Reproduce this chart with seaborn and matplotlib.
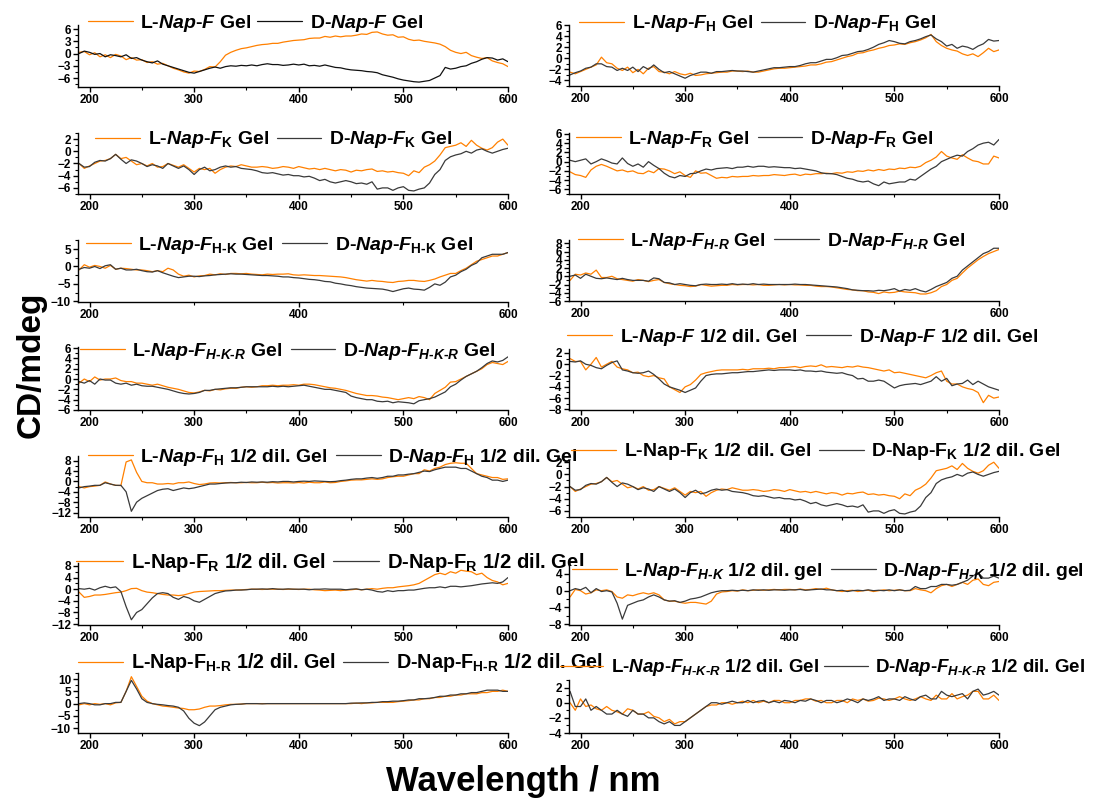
import matplotlib
matplotlib.use("Agg")
import matplotlib.pyplot as plt
from matplotlib.ticker import MultipleLocator, AutoMinorLocator, FixedLocator
import pandas as pd
import seaborn as sns

# ---------------- data (CD in mdeg) ----------------
wavelength = list(range(190, 601, 5))

F_L = [0.3, 0.5, -0.3, 0.2, -0.8, -0.3, -1.0, -0.2, -0.6, -1.5,
       -1.0, -1.6, -1.5, -2.2, -2.0, -2.6, -2.4, -3.0, -3.6, -4.0,
       -4.5, -4.8, -4.3, -4.4, -3.9, -3.2, -3.3, -2.0, -0.4, 0.3,
       0.8, 1.2, 1.4, 1.7, 2.0, 2.2, 2.3, 2.5, 2.5, 2.8,
       3.0, 3.2, 3.3, 3.4, 3.7, 3.8, 3.8, 4.2, 4.0, 4.3,
       4.1, 4.3, 4.3, 4.5, 4.8, 4.7, 5.2, 5.3, 4.8, 4.5,
       4.6, 4.0, 4.1, 3.5, 3.2, 3.3, 3.0, 2.8, 2.6, 2.3,
       1.7, 0.8, 0.3, 0.0, 0.3, -0.5, -0.9, -1.2, -1.0, -1.8,
       -2.2, -2.5, -3.2]
F_D = [0.0, 0.6, 0.3, -0.2, 0.0, -0.8, -0.3, -0.5, -0.8, -0.3,
       -1.2, -1.0, -1.6, -2.0, -2.3, -1.8, -2.6, -3.0, -3.4, -3.8,
       -4.2, -4.6, -4.8, -4.4, -4.0, -3.6, -3.3, -3.6, -3.2, -3.0,
       -3.1, -2.9, -3.0, -2.8, -3.0, -2.7, -2.5, -2.7, -2.7, -2.9,
       -2.8, -2.6, -2.8, -2.6, -3.0, -2.9, -3.1, -2.8, -3.1, -3.4,
       -3.5, -3.8, -4.0, -4.1, -4.2, -4.4, -4.5, -4.7, -5.2, -5.5,
       -5.8, -6.2, -6.5, -6.7, -6.9, -7.0, -6.8, -6.6, -6.0, -5.4,
       -3.4, -3.8, -3.6, -3.2, -3.0, -2.4, -2.0, -1.4, -1.0, -1.1,
       -1.6, -1.3, -2.0]

FH_L = [-2.5, -2.8, -2.4, -2.0, -1.6, -1.2, 0.2, -0.8, -1.0, -1.8,
        -2.2, -1.6, -2.6, -2.0, -2.8, -1.8, -1.5, -2.4, -2.5, -2.8,
        -2.4, -2.8, -3.0, -2.7, -3.1, -3.0, -2.8, -2.7, -2.6, -2.5,
        -2.5, -2.3, -2.3, -2.4, -2.3, -2.5, -2.5, -2.3, -2.1, -1.9,
        -1.8, -1.8, -1.7, -1.6, -1.5, -1.4, -1.2, -1.2, -1.0, -0.7,
        -0.6, -0.3, 0.0, 0.3, 0.5, 0.9, 1.0, 1.3, 1.5, 1.8,
        2.0, 2.3, 2.4, 2.6, 2.5, 2.8, 3.0, 3.3, 3.7, 4.3,
        3.0, 2.3, 1.8, 1.5, 1.3, 0.8, 0.5, 0.8, 0.3, 1.0,
        1.8, 1.2, 1.5]
FH_D = [-3.0, -2.6, -2.3, -1.8, -1.6, -1.0, -1.0, -1.5, -1.6, -2.2,
        -1.8, -2.2, -1.6, -2.4, -1.5, -2.0, -1.2, -2.0, -2.6, -2.4,
        -2.8, -3.2, -3.6, -3.1, -2.8, -2.5, -2.5, -2.7, -2.4, -2.4,
        -2.3, -2.2, -2.3, -2.3, -2.4, -2.5, -2.3, -2.1, -1.9, -1.7,
        -1.7, -1.6, -1.5, -1.5, -1.3, -1.0, -0.8, -0.8, -0.5, -0.2,
        -0.2, 0.1, 0.5, 0.6, 0.9, 1.2, 1.3, 1.6, 2.0, 2.5,
        2.8, 3.2, 3.0, 2.7, 2.6, 3.0, 3.2, 3.5, 3.9, 4.2,
        3.5, 3.0, 2.2, 2.5, 1.8, 2.2, 2.0, 1.6, 2.2, 2.6,
        3.4, 3.1, 3.2]

FK_L = [-2.0, -2.8, -2.4, -2.0, -1.6, -1.5, -1.2, -0.5, -1.2, -1.0,
        -1.6, -2.2, -2.0, -2.4, -2.0, -2.6, -2.5, -2.0, -2.3, -2.6,
        -2.2, -2.8, -3.4, -2.8, -3.0, -2.8, -3.6, -3.0, -2.6, -2.4,
        -2.5, -2.2, -2.4, -2.6, -2.6, -2.5, -2.6, -2.8, -2.7, -2.5,
        -2.6, -2.8, -2.5, -2.7, -2.9, -2.8, -3.0, -2.8, -3.0, -3.2,
        -3.0, -3.1, -3.4, -3.1, -3.2, -3.0, -2.9, -3.3, -3.2, -3.4,
        -3.3, -3.5, -3.6, -4.0, -3.2, -3.5, -2.6, -2.2, -1.6, -0.6,
        0.6, 0.8, 1.0, 1.4, 0.8, 1.8, 1.0, 0.5, 0.2, 0.6,
        1.5, 2.0, 1.0]
FK_D = [-2.0, -2.6, -2.5, -1.8, -1.5, -1.6, -1.2, -0.5, -1.3, -2.0,
        -1.4, -1.6, -2.0, -2.5, -2.2, -2.4, -2.8, -2.0, -2.4, -2.8,
        -2.4, -3.0, -3.8, -3.0, -2.6, -3.2, -3.0, -2.6, -2.4, -2.6,
        -2.5, -2.8, -2.9, -3.0, -3.2, -3.5, -3.6, -3.5, -3.7, -3.9,
        -3.8, -4.0, -4.0, -4.2, -4.1, -4.4, -4.8, -4.6, -5.0, -5.2,
        -5.0, -4.8, -5.0, -5.3, -5.2, -5.4, -5.0, -6.2, -6.0, -6.0,
        -6.4, -6.0, -5.8, -6.4, -6.5, -6.2, -6.0, -5.2, -3.8, -3.0,
        -1.5, -0.9, -0.6, -0.4, 0.0, -0.3, 0.2, 0.4, 0.0, -0.3,
        0.0, 0.3, 0.5]

FR_L = [-2.2, -2.8, -3.0, -3.4, -1.8, -1.0, -0.6, -1.0, -1.5, -2.0,
        -1.8, -2.2, -2.0, -2.5, -2.6, -2.0, -2.4, -1.5, -1.6, -2.0,
        -2.6, -2.2, -3.0, -3.4, -2.0, -2.5, -2.4, -3.0, -3.6, -3.4,
        -3.5, -3.2, -3.3, -3.2, -3.2, -3.0, -3.1, -3.0, -3.0, -2.8,
        -2.9, -3.0, -2.8, -2.7, -3.0, -2.7, -2.8, -2.6, -2.6, -2.5,
        -2.6, -2.4, -2.5, -2.2, -2.3, -2.0, -2.1, -1.8, -2.0, -1.7,
        -1.9, -1.6, -1.7, -1.4, -1.5, -1.2, -1.3, -1.0, -0.2, 0.3,
        1.0, 2.2, 1.2, 0.8, 0.5, 1.5, 0.8, 0.2, 0.0, -0.5,
        -0.5, 1.2, 0.8]
FR_D = [0.3, 0.0, 0.3, 0.6, -0.5, 0.0, 0.6, 0.2, -0.3, -0.5,
        0.8, -0.4, -1.0, -0.5, -1.2, 0.0, -0.8, -1.5, -2.5, -3.2,
        -3.5, -3.0, -3.2, -2.6, -2.5, -2.0, -1.6, -1.8, -1.5, -1.4,
        -1.3, -1.5, -1.2, -1.2, -1.0, -1.2, -1.0, -1.0, -1.2, -1.1,
        -1.2, -1.3, -1.3, -1.5, -1.4, -1.6, -1.8, -2.0, -2.4, -2.6,
        -2.6, -2.8, -3.2, -3.6, -3.8, -4.2, -4.4, -4.2, -4.8, -5.2,
        -4.4, -4.8, -4.6, -4.4, -4.4, -3.8, -4.0, -3.2, -2.4, -1.6,
        -1.0, 0.0, 0.5, 1.0, 1.4, 1.2, 2.2, 2.8, 3.6, 4.0,
        4.2, 3.6, 4.8]

FHK_L = [-1.0, 0.5, -0.2, 0.3, 0.0, -0.5, 0.3, -0.8, -0.5, -0.6,
         -0.8, -1.0, -1.0, -1.2, -1.5, -1.2, -1.5, -0.5, -1.0, -2.2,
         -2.8, -2.5, -3.0, -2.7, -2.6, -2.2, -2.4, -2.1, -2.3, -2.0,
         -2.0, -2.1, -2.0, -2.2, -2.3, -2.4, -2.2, -2.3, -2.2, -2.2,
         -2.1, -2.4, -2.5, -2.4, -2.5, -2.6, -2.6, -2.7, -2.8, -2.9,
         -3.0, -3.2, -3.5, -3.8, -4.0, -4.2, -4.0, -4.2, -4.3, -4.5,
         -4.6, -4.3, -4.2, -4.0, -4.0, -4.2, -4.3, -4.0, -3.6, -3.0,
         -2.5, -2.0, -2.0, -1.2, -0.5, 0.5, 1.5, 2.0, 2.5, 3.0,
         3.0, 3.5, 4.0]
FHK_D = [-0.8, -0.3, -0.5, 0.0, -0.6, 0.2, 0.5, -0.8, -0.5, -1.0,
         -1.0, -0.8, -1.2, -1.5, -1.6, -1.2, -1.8, -2.3, -2.8, -3.2,
         -3.0, -2.8, -2.8, -2.9, -2.7, -2.6, -2.4, -2.3, -2.2, -2.1,
         -2.2, -2.2, -2.3, -2.4, -2.5, -2.6, -2.6, -2.7, -2.8, -3.0,
         -3.0, -3.2, -3.3, -3.5, -3.7, -3.8, -4.0, -4.3, -4.4, -4.8,
         -5.0, -5.3, -5.5, -5.8, -6.0, -6.2, -6.3, -6.4, -6.5, -6.8,
         -7.2, -6.8, -6.4, -6.2, -6.5, -6.6, -6.8, -6.0, -5.0, -5.4,
         -4.5, -3.0, -2.5, -1.5, -0.8, 0.3, 1.0, 2.5, 3.0, 3.5,
         3.5, 3.5, 4.0]

FHR_L = [-1.0, 0.5, 0.3, 0.8, 0.5, 1.5, -0.3, -0.3, 0.0, -0.6,
         -0.8, -1.0, -1.2, -0.8, -1.0, -1.3, -1.0, -0.8, -1.5, -1.8,
         -2.0, -2.2, -2.3, -2.5, -2.4, -2.0, -2.2, -2.4, -2.3, -2.2,
         -2.2, -2.0, -2.1, -2.0, -2.0, -2.1, -2.0, -2.2, -2.2, -2.1,
         -2.0, -2.1, -2.0, -2.1, -2.1, -2.2, -2.2, -2.4, -2.5, -2.5,
         -2.6, -2.8, -3.0, -3.2, -3.3, -3.5, -3.5, -3.8, -3.9, -4.2,
         -3.8, -4.0, -3.9, -3.6, -3.8, -3.9, -4.0, -4.3, -4.3, -4.0,
         -3.5, -2.5, -2.0, -1.0, -0.5, 0.8, 2.0, 3.0, 4.0, 4.8,
         5.5, 6.0, 6.5]
FHR_D = [0.0, 0.3, -0.5, 0.5, 0.0, -0.5, -0.6, -0.4, -0.6, -0.8,
         -0.5, -0.8, -1.0, -1.0, -1.0, -1.2, -0.4, -0.6, -1.5, -1.6,
         -2.0, -1.8, -2.0, -2.2, -2.3, -2.0, -1.9, -2.0, -2.0, -1.9,
         -2.0, -1.8, -2.0, -1.9, -2.0, -1.8, -2.0, -1.9, -2.0, -2.0,
         -2.0, -2.0, -2.0, -1.9, -2.0, -2.0, -2.1, -2.2, -2.3, -2.4,
         -2.5, -2.6, -2.8, -3.0, -3.3, -3.4, -3.5, -3.5, -3.6, -3.4,
         -3.5, -3.3, -3.0, -3.6, -3.2, -3.4, -3.0, -3.5, -3.8, -3.2,
         -2.5, -2.0, -1.5, -0.5, 0.0, 1.5, 2.5, 3.5, 4.5, 5.5,
         6.0, 6.8, 6.8]

FHKR_L = [-0.8, 0.0, -0.5, 0.4, -0.2, 0.0, 0.0, 0.2, -0.3, -0.5,
          -0.5, -0.8, -0.8, -1.0, -1.2, -1.0, -1.3, -1.6, -1.8, -2.0,
          -2.3, -2.6, -2.7, -2.5, -2.2, -2.3, -2.0, -2.1, -1.9, -1.8,
          -1.8, -1.6, -1.5, -1.6, -1.5, -1.3, -1.3, -1.2, -1.3, -1.2,
          -1.2, -1.1, -1.2, -1.0, -1.0, -1.1, -1.3, -1.5, -1.7, -1.8,
          -2.0, -2.2, -2.5, -2.8, -3.0, -3.2, -3.2, -3.3, -3.5, -3.6,
          -3.8, -4.0, -3.8, -3.6, -3.8, -3.4, -3.6, -4.0, -2.8, -2.2,
          -1.6, -0.6, -0.5, 0.0, 0.5, 1.0, 1.5, 2.0, 2.8, 3.2,
          3.0, 2.8, 3.4]
FHKR_D = [-0.5, -0.8, -0.3, -1.0, 0.0, -0.2, -0.2, -0.8, -1.0, -0.8,
          -1.2, -1.0, -1.3, -1.4, -1.4, -1.6, -1.8, -2.0, -2.3, -2.6,
          -2.8, -2.9, -2.8, -2.6, -2.2, -2.2, -2.0, -1.9, -1.8, -1.7,
          -1.7, -1.6, -1.5, -1.5, -1.5, -1.5, -1.5, -1.4, -1.5, -1.4,
          -1.5, -1.4, -1.3, -1.2, -1.4, -1.6, -1.8, -2.0, -2.0, -2.2,
          -2.4, -2.6, -3.3, -3.6, -3.8, -4.0, -4.0, -4.3, -4.4, -4.3,
          -4.6, -4.4, -4.5, -4.6, -4.8, -4.2, -4.0, -3.8, -3.5, -3.0,
          -2.5, -1.5, -1.0, -0.2, 0.5, 1.0, 1.5, 2.2, 3.0, 3.5,
          3.3, 3.6, 4.3]

F_dil_L = [1.0, 0.5, 0.5, -1.0, 0.0, 1.2, -0.5, 0.0, 0.5, -0.5,
           -0.8, -1.0, -1.5, -1.4, -2.0, -2.2, -2.0, -2.4, -2.6, -4.0,
           -4.5, -5.0, -4.0, -3.6, -2.8, -1.8, -1.5, -1.3, -1.1, -1.0,
           -1.0, -1.0, -1.0, -0.9, -1.0, -0.8, -0.8, -0.8, -0.7, -0.8,
           -0.6, -0.6, -0.5, -0.4, -0.6, -0.4, -0.3, -0.4, -0.1, -0.5,
           -0.4, -0.5, -0.6, -0.4, -0.5, -0.3, -0.5, -0.6, -0.8, -1.0,
           -1.2, -1.0, -1.5, -1.4, -1.6, -1.8, -2.0, -2.2, -2.4, -2.0,
           -1.5, -1.2, -3.0, -3.5, -3.5, -4.0, -4.3, -4.5, -5.0, -6.8,
           -5.5, -6.0, -5.8]
F_dil_D = [0.5, 0.4, 0.6, 0.0, -0.2, -0.6, -0.8, -0.2, 0.3, 0.6,
           -1.0, -1.2, -1.5, -1.6, -1.5, -1.2, -1.8, -2.6, -3.5, -4.0,
           -4.3, -4.6, -5.0, -4.6, -4.2, -3.0, -2.0, -1.8, -1.7, -1.7,
           -1.6, -1.5, -1.5, -1.4, -1.3, -1.3, -1.2, -1.1, -1.0, -1.1,
           -1.0, -1.0, -1.0, -1.1, -1.0, -1.2, -1.2, -1.3, -1.2, -1.4,
           -1.5, -1.6, -1.5, -1.8, -2.0, -2.6, -2.5, -3.0, -3.0, -2.8,
           -3.0, -3.6, -4.2, -3.8, -3.6, -3.5, -3.4, -3.6, -3.3, -3.0,
           -2.2, -3.0, -2.5, -3.8, -3.5, -3.4, -2.8, -3.6, -3.0, -3.5,
           -4.0, -4.3, -4.6]

FH_dil_L = [-2.0, -2.5, -2.0, -1.8, -1.5, -0.2, -1.0, -1.5, -1.6, 7.5,
            8.3, 3.5, 0.0, -0.5, -0.5, -1.0, -1.0, -0.8, -1.0, -0.5,
            -0.5, -0.2, -0.8, -1.2, -1.0, -0.6, -0.5, -0.6, -0.5, -0.4,
            -0.5, -0.5, -0.4, -0.5, -0.5, -0.3, -0.5, -0.4, -0.6, -0.5,
            -0.5, -0.6, -0.4, -0.6, -0.3, -0.5, -0.5, -0.2, -0.5, -0.4,
            0.0, 0.2, 0.5, 0.6, 0.6, 0.8, 1.0, 0.8, 1.0, 1.5,
            1.8, 2.0, 2.0, 2.5, 3.0, 3.0, 4.5, 4.0, 5.0, 5.5,
            6.5, 7.0, 7.2, 7.0, 7.0, 5.0, 3.0, 2.5, 2.0, 1.5,
            1.5, 0.8, 1.0]
FH_dil_D = [-2.5, -2.0, -1.8, -1.5, -1.5, -0.5, -1.0, -1.5, -1.5, -4.0,
            -11.5, -8.0, -6.5, -5.5, -4.5, -3.5, -3.0, -2.8, -3.5, -3.0,
            -2.5, -2.8, -2.5, -2.0, -1.5, -1.0, -1.0, -0.8, -0.6, -0.5,
            -0.5, -0.3, -0.4, -0.2, -0.3, -0.2, -0.3, -0.1, -0.2, 0.0,
            0.0, -0.2, 0.0, 0.1, 0.0, 0.2, 0.1, 0.0, -0.1, 0.0,
            0.3, 0.5, 0.8, 1.0, 1.0, 1.3, 1.5, 1.2, 1.5, 2.0,
            2.0, 2.5, 2.5, 2.8, 3.0, 3.5, 4.0, 3.8, 4.5, 5.0,
            5.5, 5.5, 5.5, 5.0, 5.0, 4.0, 3.0, 2.0, 1.5, 0.5,
            0.5, 0.0, 0.5]

FK_dil_L = FK_L
FK_dil_D = FK_D

FR_dil_L = [-1.0, -2.8, -2.5, -2.0, -2.0, -1.8, -1.5, -1.2, -1.0, -0.5,
            0.2, 0.3, -0.5, -1.0, -1.2, -1.5, -1.8, -2.0, -2.0, -2.2,
            -2.0, -1.5, -1.0, -0.8, -0.7, -0.6, -0.5, -0.5, -0.4, -0.3,
            -0.3, -0.2, -0.1, 0.0, 0.0, -0.1, 0.0, 0.0, 0.0, -0.1,
            0.0, 0.0, -0.1, 0.0, 0.0, -0.2, -0.3, -0.5, -0.4, -0.3,
            -0.5, -0.3, -0.2, 0.0, -0.2, 0.0, 0.2, 0.0, 0.3, 0.5,
            0.5, 0.8, 1.0, 1.2, 1.5, 2.0, 3.0, 4.0, 5.0, 5.5,
            5.0, 6.0, 5.5, 6.5, 6.2, 6.0, 5.0, 5.5, 4.0, 3.0,
            2.5, 1.5, 2.0]
FR_dil_D = [0.2, 0.0, 0.3, -0.3, 0.5, 1.0, 0.5, 0.8, -0.8, -6.0,
            -10.5, -8.0, -7.0, -5.0, -3.0, -1.5, -1.2, -1.5, -2.8, -3.5,
            -2.5, -3.0, -4.0, -4.5, -3.5, -2.5, -1.5, -1.0, -0.6, -0.5,
            -0.3, -0.3, -0.2, 0.0, 0.0, 0.1, 0.0, 0.2, 0.0, 0.0,
            0.1, 0.0, 0.0, 0.0, -0.2, 0.0, 0.0, 0.1, 0.0, 0.0,
            0.0, -0.2, 0.0, 0.1, -0.2, 0.0, -0.3, -0.8, -1.0, -0.5,
            -0.8, -0.5, -0.5, -0.3, -0.3, 0.0, 0.3, 0.5, 0.5, 0.8,
            0.5, 1.0, 1.0, 0.8, 1.0, 1.2, 1.5, 1.8, 2.0, 2.2,
            2.0, 2.5, 4.0]

FHK_dil_L = [-1.5, 0.3, 0.0, -0.8, -0.5, 0.2, 0.0, 0.2, -0.2, -1.5,
             -1.8, -1.0, -1.2, -0.8, -0.5, -0.8, -0.5, -1.0, -2.2, -2.5,
             -2.5, -2.8, -3.0, -2.8, -2.8, -3.0, -3.2, -2.5, -0.8, -0.3,
             -0.2, 0.0, -0.1, 0.2, 0.0, 0.1, 0.2, 0.1, 0.2, 0.3,
             0.2, 0.3, 0.3, 0.2, 0.4, 0.2, 0.3, 0.5, 0.3, 0.6,
             0.2, 0.0, -0.2, 0.0, 0.1, -0.2, 0.0, 0.1, -0.2, 0.0,
             0.2, 0.0, 0.1, 0.2, 0.0, 0.0, 0.5, 0.2, 0.0, -0.5,
             0.5, 1.2, 1.5, 1.0, 1.5, 2.0, 1.5, 2.5, 2.8, 1.5,
             1.2, 2.0, 2.2]
FHK_dil_D = [0.0, 0.5, 0.2, 0.8, -0.5, 0.5, -0.2, 0.0, -0.3, -3.0,
             -6.8, -3.5, -3.0, -2.5, -2.2, -1.5, -1.0, -1.5, -2.2, -2.5,
             -2.4, -2.8, -2.5, -2.0, -1.8, -1.5, -1.0, -0.5, -0.2, 0.0,
             0.0, 0.1, 0.0, 0.1, 0.0, 0.2, 0.1, 0.2, 0.1, 0.2,
             0.2, 0.1, 0.2, 0.2, 0.3, 0.1, 0.2, 0.3, 0.4, 0.2,
             0.2, 0.0, 0.1, -0.2, 0.0, 0.1, 0.0, 0.2, 0.0, 0.1,
             0.0, 0.2, 0.0, 0.2, 0.0, 0.1, 1.0, 0.5, 0.5, 1.0,
             1.0, 1.5, 1.5, 1.3, 1.5, 2.0, 2.5, 3.5, 4.3, 3.0,
             3.0, 3.5, 3.0]

FHR_dil_L = [-0.5, 0.0, -0.5, 0.0, -0.3, 0.0, -0.5, 0.3, 0.5, 5.0,
             11.0, 7.0, 3.0, 1.0, 0.0, -0.5, -1.0, -1.2, -1.5, -1.8,
             -2.0, -2.5, -2.5, -2.2, -1.5, -1.0, -1.0, -0.8, -0.5, -0.3,
             -0.3, -0.2, 0.0, 0.0, 0.0, 0.0, 0.0, 0.0, 0.0, 0.0,
             0.0, 0.0, 0.0, 0.0, 0.0, 0.0, 0.0, 0.0, 0.0, 0.0,
             0.0, 0.0, 0.0, 0.2, 0.0, 0.3, 0.3, 0.5, 0.5, 0.5,
             0.5, 0.8, 1.0, 1.2, 1.5, 1.5, 2.0, 2.0, 2.5, 2.5,
             3.0, 3.0, 3.5, 3.5, 4.0, 4.0, 4.0, 4.5, 4.5, 5.0,
             5.0, 5.5, 5.0]
FHR_dil_D = [0.0, 0.3, 0.0, -0.5, -0.5, 0.0, 0.0, 0.5, 0.5, 5.0,
             9.5, 6.0, 2.0, 0.5, 0.0, -0.3, -0.5, -0.8, -1.0, -1.5,
             -3.0, -6.0, -8.0, -9.0, -7.5, -5.0, -2.5, -1.5, -1.0, -0.5,
             -0.3, -0.2, 0.0, 0.0, 0.0, -0.1, 0.0, 0.0, 0.0, 0.0,
             0.0, 0.0, 0.0, 0.0, 0.0, 0.0, 0.0, 0.0, 0.0, 0.0,
             0.0, 0.0, 0.2, 0.2, 0.3, 0.3, 0.5, 0.5, 0.8, 0.8,
             1.0, 1.0, 1.2, 1.5, 1.5, 2.0, 2.0, 2.2, 2.5, 3.0,
             3.0, 3.5, 3.5, 4.0, 4.0, 4.5, 4.5, 5.0, 5.5, 5.5,
             5.5, 5.0, 5.0]

FHKR_dil_L = [0.0, -1.0, 0.5, -0.5, -0.3, -0.8, -1.0, -0.5, -1.0, -1.2,
              -1.5, -0.8, -1.0, -1.5, -1.5, -1.2, -1.8, -2.0, -2.5, -2.2,
              -2.8, -2.5, -2.5, -2.0, -1.5, -1.0, -0.5, -0.3, -0.3, 0.0,
              0.0, -0.2, 0.0, 0.2, 0.0, 0.3, 0.0, 0.2, 0.0, 0.3,
              0.3, 0.0, 0.0, 0.3, 0.3, 0.5, 0.5, 0.2, 0.3, 0.0,
              0.0, 0.3, 0.3, 0.0, 0.5, 0.3, 0.5, 0.2, 0.3, 0.6,
              0.5, 0.3, 0.5, 0.8, 0.5, 0.3, 0.5, 0.8, 0.5, 0.3,
              1.0, 0.5, 0.5, 1.2, 0.5, 0.8, 1.0, 1.5, 1.5, 0.5,
              0.5, 1.0, 0.3]
FHKR_dil_D = [1.5, -0.5, -0.5, 0.5, -1.0, -0.5, -1.0, -1.5, -1.5, -1.0,
              -1.5, -1.8, -1.0, -1.5, -1.5, -2.0, -2.0, -2.5, -2.8, -2.5,
              -3.0, -3.0, -2.5, -2.0, -1.5, -1.0, -0.5, 0.0, 0.0, -0.2,
              0.0, 0.2, 0.0, 0.0, 0.3, 0.0, 0.2, 0.3, 0.0, 0.2,
              0.0, 0.3, 0.2, 0.0, 0.3, 0.2, 0.5, 0.3, 0.0, 0.3,
              0.3, 0.0, 0.2, 0.5, 0.3, 0.0, 0.5, 0.3, 0.5, 0.8,
              0.3, 0.5, 0.5, 0.3, 0.8, 0.5, 0.3, 0.8, 1.0, 0.5,
              0.5, 1.5, 1.0, 0.8, 1.0, 1.2, 0.5, 1.5, 1.8, 1.0,
              1.2, 1.5, 1.0]

# legend labels
labels = [
    (r"L-$Nap$-$F$ Gel", r"D-$Nap$-$F$ Gel"),
    (r"L-$Nap$-$F_\mathrm{H}$ Gel", r"D-$Nap$-$F_\mathrm{H}$ Gel"),
    (r"L-$Nap$-$F_\mathrm{K}$ Gel", r"D-$Nap$-$F_\mathrm{K}$ Gel"),
    (r"L-$Nap$-$F_\mathrm{R}$ Gel", r"D-$Nap$-$F_\mathrm{R}$ Gel"),
    (r"L-$Nap$-$F_\mathrm{H\text{-}K}$ Gel", r"D-$Nap$-$F_\mathrm{H\text{-}K}$ Gel"),
    (r"L-$Nap$-$F_{H\text{-}R}$ Gel", r"D-$Nap$-$F_{H\text{-}R}$ Gel"),
    (r"L-$Nap$-$F_{H\text{-}K\text{-}R}$ Gel", r"D-$Nap$-$F_{H\text{-}K\text{-}R}$ Gel"),
    (r"L-$Nap$-$F$ 1/2 dil. Gel", r"D-$Nap$-$F$ 1/2 dil. Gel"),
    (r"L-$Nap$-$F_\mathrm{H}$ 1/2 dil. Gel", r"D-$Nap$-$F_\mathrm{H}$ 1/2 dil. Gel"),
    (r"L-Nap-F$_\mathrm{K}$ 1/2 dil. Gel", r"D-Nap-F$_\mathrm{K}$ 1/2 dil. Gel"),
    (r"L-Nap-F$_\mathrm{R}$ 1/2 dil. Gel", r"D-Nap-F$_\mathrm{R}$ 1/2 dil. Gel"),
    (r"L-$Nap$-$F_{H\text{-}K}$ 1/2 dil. gel", r"D-$Nap$-$F_{H\text{-}K}$ 1/2 dil. gel"),
    (r"L-Nap-F$_\mathrm{H\text{-}R}$ 1/2 dil. Gel", r"D-Nap-F$_\mathrm{H\text{-}R}$ 1/2 dil. Gel"),
    (r"L-$Nap$-$F_{H\text{-}K\text{-}R}$ 1/2 dil. Gel", r"D-$Nap$-$F_{H\text{-}K\text{-}R}$ 1/2 dil. Gel"),
]
series = [(F_L, F_D), (FH_L, FH_D), (FK_L, FK_D), (FR_L, FR_D),
          (FHK_L, FHK_D), (FHR_L, FHR_D), (FHKR_L, FHKR_D), (F_dil_L, F_dil_D),
          (FH_dil_L, FH_dil_D), (FK_dil_L, FK_dil_D), (FR_dil_L, FR_dil_D),
          (FHK_dil_L, FHK_dil_D), (FHR_dil_L, FHR_dil_D), (FHKR_dil_L, FHKR_dil_D)]

# ---------------- layout (pixels) ----------------
W, H = 1103, 800
LC, RC = (78, 508), (569, 999)
layout = [
    # (col, top, bottom, ylim, yticks, xstep, legend (x, y), legend size, colspacing)
    (LC, 25, 87, (-8.2, 7.0), [-6, -3, 0, 3, 6], 100, (88, 23), 14, 0.3),
    (RC, 25, 86, (-5.0, 6.0), [-4, -2, 0, 2, 4, 6], 100, (579, 24), 14, 0.4),
    (LC, 133, 194, (-7.0, 3.0), [-6, -4, -2, 0, 2], 100, (95, 140), 14, 0.4),
    (RC, 133, 194, (-7.0, 6.2), [-6, -4, -2, 0, 2, 4, 6], 200, (576, 139), 14, 0.4),
    (LC, 240, 302, (-10.2, 7.6), [-10, -5, 0, 5], 200, (86, 245), 14, 0.4),
    (RC, 240, 301, (-6.0, 8.8), [-6, -4, -2, 0, 2, 4, 6, 8], 200, (578, 241), 14, 0.4),
    (LC, 347, 410, (-6.0, 6.2), [-6, -4, -2, 0, 2, 4, 6], 100, (80, 351), 14, 0.4),
    (RC, 349, 410, (-8.1, 2.7), [-8, -6, -4, -2, 0, 2], 100, (567, 337), 14, 0.5),
    (LC, 456, 517, (-13.7, 9.8), [-12, -8, -4, 0, 4, 8], 100, (88, 457), 14, 0.4),
    (RC, 461, 517, (-7.0, 2.2), [-6, -4, -2, 0, 2], 100, (571, 452), 14, 0.4),
    (LC, 563, 625, (-12.3, 9.0), [-12, -8, -4, 0, 4, 8], 100, (76, 563), 14.6, 0.35),
    (RC, 566, 625, (-8.2, 5.9), [-8, -4, 0, 4], 100, (572, 571), 14, 0.4),
    (LC, 673, 733, (-12.0, 12.5), [-10, -5, 0, 5, 10], 100, (78, 663), 14.2, 0.35),
    (RC, 680, 733, (-4.0, 3.0), [-4, -2, 0, 2], 100, (560, 668), 13.5, 0.3),
]

ORANGE = "#FF8000"
DARK = "#3a3a3a"

sns.set_theme(style="ticks")
plt.rcParams["font.family"] = ["Liberation Sans", "DejaVu Sans"]
plt.rcParams["font.weight"] = "bold"
plt.rcParams["text.color"] = "black"
plt.rcParams["axes.labelcolor"] = "black"
plt.rcParams["xtick.color"] = "black"
plt.rcParams["ytick.color"] = "black"
plt.rcParams["mathtext.fontset"] = "custom"
plt.rcParams["mathtext.rm"] = "Liberation Sans:bold"
plt.rcParams["mathtext.bf"] = "Liberation Sans:bold"
plt.rcParams["mathtext.it"] = "Liberation Sans:italic:bold"
plt.rcParams["mathtext.sf"] = "Liberation Sans:bold"

fig = plt.figure(figsize=(W / 100, H / 100), dpi=100)

for i, ((yl, yd), (labL, labD), lay) in enumerate(zip(series, labels, layout)):
    (x0, x1), top, bot, ylim, yticks, xstep, (lx, ly), lsize, cs = lay
    ax = fig.add_axes([x0 / W, 1 - bot / H, (x1 - x0) / W, (bot - top) / H])
    df = pd.DataFrame({"wl": wavelength + wavelength,
                       "cd": list(yl) + list(yd),
                       "s": [labL] * len(wavelength) + [labD] * len(wavelength)})
    dcol = "#111111" if i == 0 else DARK
    sns.lineplot(data=df, x="wl", y="cd", hue="s", palette=[ORANGE, dcol],
                 linewidth=0.9, ax=ax, legend=False, sort=False)
    ax.set_xlim(189, 600)
    ax.set_ylim(*ylim)
    ax.xaxis.set_major_locator(MultipleLocator(xstep))
    ax.xaxis.set_minor_locator(AutoMinorLocator(2))
    ax.yaxis.set_major_locator(FixedLocator(yticks))
    ax.yaxis.set_minor_locator(AutoMinorLocator(2))
    ax.set_xlabel("")
    ax.set_ylabel("")
    sns.despine(ax=ax)
    for s in ("left", "bottom"):
        ax.spines[s].set_linewidth(1.0)
        ax.spines[s].set_color("black")
    ax.tick_params(axis="both", which="major", length=3.5, width=1.0, pad=1.5,
                   labelsize=8.5, colors="black", labelcolor="black")
    ax.tick_params(axis="both", which="minor", length=2, width=0.8, colors="black")
    for t in ax.get_xticklabels() + ax.get_yticklabels():
        t.set_fontweight("bold")
    h = [plt.Line2D([], [], color=ORANGE, lw=0.9), plt.Line2D([], [], color=dcol, lw=0.9)]
    leg = ax.legend(h, [labL, labD], loc="center left", bbox_to_anchor=(lx / W, 1 - ly / H),
                    bbox_transform=fig.transFigure, ncol=2, frameon=False, borderpad=0,
                    borderaxespad=0, handlelength=2.3, handletextpad=0.4, columnspacing=cs,
                    prop={"family": "Liberation Sans", "weight": "bold", "size": lsize})
    for t in leg.get_texts():
        t.set_color("black")

fig.text(31 / W, 1 - 365 / H, "CD/mdeg", rotation=90, ha="center", va="center",
         fontsize=24, fontweight="bold", family="Liberation Sans", color="black")
fig.text(523 / W, 1 - 781 / H, "Wavelength / nm", ha="center", va="center",
         fontsize=25, fontweight="bold", family="Liberation Sans", color="black")

fig.savefig("out.png", dpi=100)
